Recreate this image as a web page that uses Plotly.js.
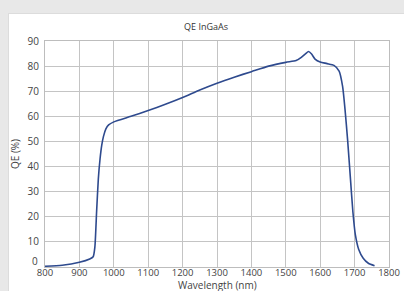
<!DOCTYPE html>
<html>
<head>
<meta charset="utf-8">
<script src="https://cdn.plot.ly/plotly-3.0.1.min.js"></script>
<style>
html,body{margin:0;padding:0;width:404px;height:291px;overflow:hidden;background:#e8e8e8;}
#panel{position:absolute;left:8px;top:13px;width:396px;height:278px;background:#fff;border-top:1px solid #dcdcdc;border-left:1px solid #dcdcdc;box-sizing:border-box;}
#chart{position:absolute;left:8px;top:13px;width:396px;height:278px;}
</style>
</head>
<body>
<div id="panel"></div>
<div id="chart"></div>
<script>
const wavelength = [800, 850, 900, 930, 940, 945, 950, 955, 960, 965, 970, 977, 985, 1000, 1050, 1100, 1150, 1200, 1250, 1300, 1350, 1400, 1450, 1500, 1530, 1545, 1558, 1566, 1575, 1585, 1600, 1620, 1640, 1655, 1665, 1672, 1680, 1688, 1695, 1702, 1712, 1725, 1740, 1758];
const qe = [0.3, 0.7, 1.9, 3.2, 4.1, 8, 22, 35, 43, 48.5, 52, 55, 56.6, 57.8, 60, 62.3, 64.8, 67.5, 70.5, 73.2, 75.6, 77.8, 80, 81.5, 82.2, 83.5, 85, 85.8, 84.8, 82.8, 81.6, 81, 80.3, 78, 72, 63, 50, 35, 22, 13, 7, 3.5, 1.5, 0.5];
const xTicks = [800, 900, 1000, 1100, 1200, 1300, 1400, 1500, 1600, 1700, 1800];
const yTicks = [0, 10, 20, 30, 40, 50, 60, 70, 80, 90];
const xTitle = 'Wavelength (nm)';
const yTitle = 'QE (%)';
const chartTitle = 'QE InGaAs';

const fontFam = '"Open Sans", "Noto Sans", sans-serif';
const tickFont = {family: fontFam, size: 10, color: '#444'};
const xTickFont = {family: fontFam, size: 9.5, color: '#444'};
Plotly.newPlot('chart', [{
  x: wavelength, y: qe, type: 'scatter', mode: 'lines',
  line: {color: '#2e4a8e', width: 1.6, shape: 'spline', smoothing: 0.6},
  hoverinfo: 'skip'
}], {
  width: 396, height: 278,
  margin: {l: 37, r: 15, t: 28, b: 24, pad: 0},
  paper_bgcolor: 'rgba(0,0,0,0)', plot_bgcolor: '#fff',
  showlegend: false,
  title: {text: chartTitle, font: {family: fontFam, size: 9, color: '#333'}, x: 0.5, xanchor: 'center', yref: 'container', y: 0.95, yanchor: 'middle'},
  xaxis: {
    range: [800, 1800], tickvals: xTicks, ticktext: xTicks.map(String),
    showgrid: true, gridcolor: '#c4c4c4', gridwidth: 1,
    showline: true, linecolor: '#bdbdbd', mirror: true, zeroline: false,
    ticks: '', ticklen: 0, ticklabelstandoff: -3,
    tickfont: xTickFont,
    automargin: false, fixedrange: true
  },
  yaxis: {
    range: [0, 90], tickvals: yTicks, ticktext: yTicks.map(v => v === 0 ? '' : String(v)),
    showgrid: true, gridcolor: '#c4c4c4', gridwidth: 1,
    showline: true, linecolor: '#bdbdbd', mirror: true, zeroline: false,
    ticks: '', ticklen: 0, ticklabelstandoff: 3,
    tickfont: tickFont,
    title: {text: yTitle, font: {family: fontFam, size: 10, color: '#444'}, standoff: 6},
    automargin: false, fixedrange: true
  },
  annotations: [
    {text: xTitle, xref: 'paper', yref: 'paper', x: 0.5, y: -17.5/226, xanchor: 'center', yanchor: 'middle', showarrow: false, font: {family: fontFam, size: 10, color: '#444'}},
    {text: String(yTicks[0]), xref: 'paper', yref: 'y', x: 0, y: yTicks[0], xanchor: 'right', yanchor: 'middle', xshift: -5, yshift: 6, showarrow: false, font: tickFont}
  ]
}, {staticPlot: true, displayModeBar: false});
</script>
</body>
</html>
